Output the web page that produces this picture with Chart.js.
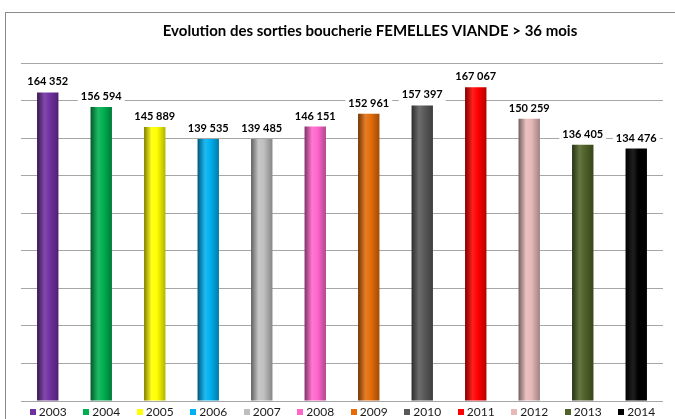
<!DOCTYPE html>
<html><head><meta charset="utf-8">
<script src="https://cdn.jsdelivr.net/npm/chart.js@4/dist/chart.umd.min.js"></script>
<style>
html,body{margin:0;padding:0;background:#fff;overflow:hidden}
#wrap{position:relative;width:675px;height:419px}
#frame{position:absolute;left:5px;top:12px;width:720px;height:460px;border-left:1px solid #8c8c8c;border-top:1px solid #8c8c8c;pointer-events:none}
canvas{position:absolute;left:0;top:0}
</style></head><body>
<div id="wrap"><canvas id="c" width="675" height="419"></canvas><div id="frame"></div></div>
<script>
const chartTitle = 'Evolution des sorties boucherie FEMELLES VIANDE > 36 mois';
const years = ['2003','2004','2005','2006','2007','2008','2009','2010','2011','2012','2013','2014'];
const sorties = [164352,156594,145889,139535,139485,146151,152961,157397,167067,150259,136405,134476];
const yearColors = ['#7030A0','#00B050','#FFFF00','#00B0F0','#BFBFBF','#FF66CC','#E36C09','#595959','#FF0000','#E6B9B8','#4F6228','#000000'];
const yMin = 0, yMax = 180000, yStep = 20000;

const BAR_PCT = 0.4, CAT_PCT = 1.0;
const FONT = 'Lato,"Liberation Sans",Arial,sans-serif';

function mix(hex, t){ // t<0 darken, t>0 lighten
  const n = parseInt(hex.slice(1),16);
  let r=(n>>16)&255,g=(n>>8)&255,b=n&255;
  const f = v => Math.round(t<0 ? v*(1+t) : v+(255-v)*t);
  return 'rgb('+f(r)+','+f(g)+','+f(b)+')';
}
function fmt(v){ return String(v).replace(/\B(?=(\d{3})+(?!\d))/g,' '); }

const cylinder = ctx => {
  const chart = ctx.chart, area = chart.chartArea;
  const base = yearColors[ctx.dataIndex];
  if(!area || ctx.type !== 'data' || !chart.scales.x) return base;
  const x = chart.scales.x.getPixelForValue(ctx.dataIndex);
  const w = (area.right-area.left)/years.length*CAT_PCT*BAR_PCT;
  const g = chart.ctx.createLinearGradient(x-w/2,0,x+w/2,0);
  g.addColorStop(0, mix(base,-0.5));
  g.addColorStop(0.35, mix(base,0.12));
  g.addColorStop(0.6, base);
  g.addColorStop(1, mix(base,-0.3));
  return g;
};

const decor = {
  id:'decor',
  afterDatasetsDraw(chart){
    const c = chart.ctx, meta = chart.getDatasetMeta(0);
    c.save();
    c.font = 'bold 11px '+FONT;
    c.textAlign='center'; c.textBaseline='middle';
    meta.data.forEach((bar,i)=>{
      const t = fmt(sorties[i]);
      const w = c.measureText(t).width;
      const y = bar.y - 10.5;
      c.fillStyle='#fff';
      c.fillRect(bar.x-w/2-3, y-7, w+6, 14);
      c.fillStyle='#000';
      c.fillText(t, bar.x, y);
    });
    c.restore();
  },
  afterDraw(chart){
    const c = chart.ctx;
    c.save();
    // title
    c.font = 'bold 15px '+FONT;
    c.fillStyle='#000'; c.textAlign='center'; c.textBaseline='middle';
    c.fillText(chartTitle, 370, 31);
    // legend
    c.font = '12px '+FONT;
    c.textAlign='left';
    years.forEach((yr,i)=>{
      const cx = chart.scales.x.getPixelForValue(i);
      c.fillStyle = yearColors[i];
      c.fillRect(Math.round(cx-18), 409, 6, 6);
      c.fillStyle = '#1a1a1a';
      c.fillText(yr, cx-9, 412.5);
    });
    c.restore();
  }
};

new Chart(document.getElementById('c'), {
  type:'bar',
  data:{ labels: years, datasets:[{ data: sorties, backgroundColor: cylinder, borderWidth:0,
    barPercentage: BAR_PCT, categoryPercentage: CAT_PCT }]},
  options:{
    responsive:false, animation:false, devicePixelRatio:1,
    layout:{ padding:{ left:21, right:12, top:63, bottom:18 } },
    plugins:{ legend:{display:false}, title:{display:false}, tooltip:{enabled:false} },
    scales:{
      x:{ display:false },
      y:{ min:yMin, max:yMax, ticks:{ display:false, stepSize:yStep },
          grid:{ color:'#a6a6a6', lineWidth:1, drawTicks:false },
          border:{ display:false },
          afterFit(s){ s.width = 0; } }
    }
  },
  plugins:[decor]
});
</script>
</body></html>
